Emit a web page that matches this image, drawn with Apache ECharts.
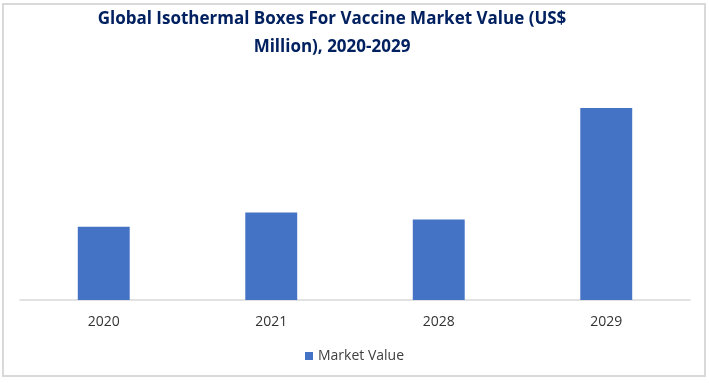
<!DOCTYPE html>
<html><head><meta charset="utf-8">
<script src="https://cdn.jsdelivr.net/npm/echarts@6/dist/echarts.min.js"></script>
<style>html,body{margin:0;padding:0;background:#fff}#c{width:709px;height:383px}</style>
</head><body><div id="c"></div>
<script>
const categories = ['2020', '2021', '2028', '2029'];
const marketValue = [73, 87, 80, 191];
const seriesName = 'Market Value';
const titleText = 'Global Isothermal Boxes For Vaccine Market Value (US$\nMillion), 2020-2029';

const chart = echarts.init(document.getElementById('c'));
chart.setOption({
  animation: false,
  backgroundColor: '#fff',
  graphic: [{
    type: 'rect', silent: true, z: 100,
    shape: { x: 3, y: 4, width: 702, height: 372 },
    style: { fill: 'none', stroke: '#d9d9d9', lineWidth: 2 }
  }],
  title: {
    text: titleText,
    left: 327, top: 0, textAlign: 'center',
    textStyle: { fontFamily: 'Open Sans', fontWeight: 'bold', fontSize: 17, color: '#002060', lineHeight: 28 }
  },
  legend: {
    data: [seriesName], left: 'center', top: 344,
    itemWidth: 8, itemHeight: 8, itemGap: 4,
    icon: 'rect',
    textStyle: { fontFamily: 'Open Sans', fontSize: 14, color: '#404040' }
  },
  grid: { left: 20, right: 19, top: 99, bottom: 83 },
  xAxis: {
    type: 'category', data: categories,
    axisLine: { lineStyle: { color: '#d9d9d9', width: 1.5 } },
    axisTick: { show: false },
    axisLabel: { fontFamily: 'Open Sans', fontSize: 14, color: '#333333', margin: 15 }
  },
  yAxis: {
    type: 'value', min: 0, max: 200, show: false, splitLine: { show: false }
  },
  series: [{
    name: seriesName, type: 'bar', data: marketValue,
    barWidth: '31%', itemStyle: { color: '#4472c4' }
  }]
});
</script></body></html>
